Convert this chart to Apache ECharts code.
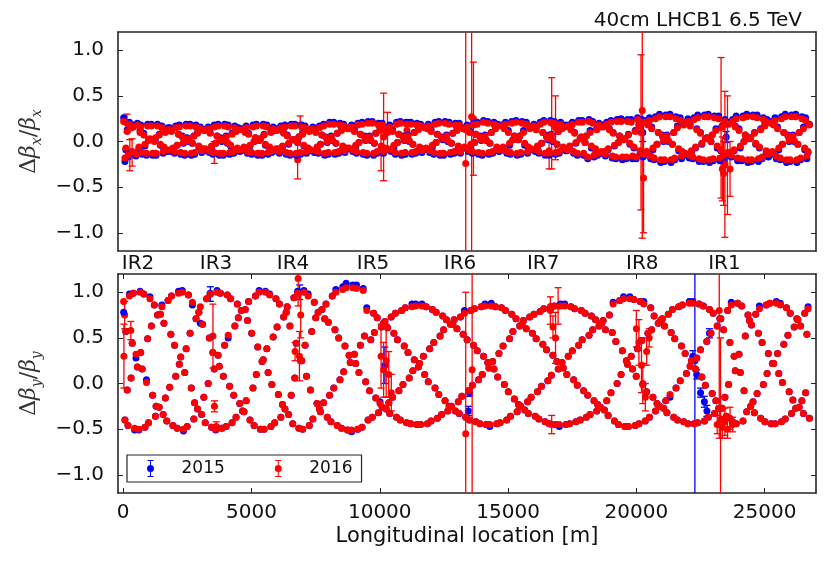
<!DOCTYPE html>
<html><head><meta charset="utf-8">
<script src="https://cdn.jsdelivr.net/npm/echarts@6/dist/echarts.min.js"></script>
<style>html,body{margin:0;padding:0;background:#fff}#c{width:831px;height:574px}</style>
</head><body><div id="c"></div>
<script>
// BPM longitudinal positions [m], first family
const bpmS = [
20,105,190,310,395,500,615,685,805,910,
990,1100,1215,1285,1405,1510,1590,1700,1815,1885,
2005,2110,2190,2305,2400,2495,2610,2700,2785,2900,
3010,3095,3200,3315,3390,3495,3610,3700,3790,3905,
4010,4095,4190,4310,4400,4490,4605,4710,4795,4890,
5010,5105,5190,5300,5415,5490,5600,5710,5795,5905,
6000,6090,6210,6305,6395,6500,6610,6690,6800,6915,
6995,7090,7210,7300,7395,7505,7600,7690,7810,7905,
7995,8100,8210,8290,8400,8510,8595,8690,8805,8900,
9010,9095,9190,9310,9405,9495,9600,9710,9790,9900,
10010,10095,10200,10305,10390,10500,10610,10690,10800,10905,
10995,11100,11210,11290,11400,11505,11595,11700,11810,11890,
12000,12105,12195,12300,12410,12490,12600,12705,12795,12900,
13010,13095,13200,13300,13405,13500,13610,13690,13800,13905,
13995,14100,14210,14290,14400,14510,14595,14690,14805,14900,
15010,15095,15190,15310,15405,15495,15600,15710,15790,15900,
16010,16095,16200,16305,16390,16500,16610,16690,16800,16905,
16995,17100,17210,17290,17400,17505,17595,17700,17810,17890,
18000,18105,18195,18300,18410,18490,18600,18705,18795,18900,
19010,19095,19200,19300,19405,19500,19610,19690,19800,19905,
19995,20100,20210,20290,20400,20510,20595,20690,20805,20900,
21010,21095,21190,21310,21405,21495,21600,21710,21790,21900,
22010,22095,22200,22305,22390,22500,22610,22690,22800,22905,
22995,23100,23210,23290,23400,23505,23595,23700,23810,23890,
24000,24105,24195,24300,24410,24490,24600,24705,24795,24900,
25010,25095,25200,25300,25405,25500,25610,25690,25800,25905,
25995,26100,26210,26290,26400,26510,26595,26690];
// BPM longitudinal positions [m], second family
const bpmS2 = [
70,160,245,355,450,555,660,740,850,955,
1045,1150,1260,1340,1450,1560,1645,1750,1860,1940,
2050,2160,2245,2350,2455,2545,2655,2755,2840,2950,
3060,3145,3255,3360,3445,3550,3660,3750,3845,3955,
4060,4150,4245,4355,4450,4545,4655,4760,4845,4945,
5060,5155,5245,5350,5460,5545,5650,5760,5845,5955,
6050,6145,6255,6355,6450,6550,6655,6745,6850,6960,
7045,7145,7255,7350,7450,7555,7650,7745,7855,7955,
8045,8150,8255,8345,8450,8560,8645,8745,8850,8950,
9060,9145,9245,9355,9450,9545,9650,9760,9845,9950,
10060,10145,10250,10355,10445,10550,10655,10745,10850,10955,
11045,11150,11255,11345,11450,11555,11645,11750,11855,11945,
12050,12155,12245,12350,12455,12545,12650,12755,12845,12950,
13060,13145,13250,13350,13455,13550,13655,13745,13850,13955,
14045,14150,14255,14345,14450,14560,14645,14745,14855,14950,
15060,15145,15245,15355,15455,15545,15650,15760,15845,15950,
16060,16145,16250,16355,16445,16550,16655,16745,16850,16955,
17045,17150,17255,17345,17450,17555,17645,17750,17855,17945,
18050,18155,18245,18350,18455,18545,18650,18755,18845,18950,
19060,19145,19250,19350,19455,19550,19655,19745,19850,19955,
20045,20150,20255,20345,20450,20560,20645,20745,20855,20950,
21060,21145,21245,21355,21455,21545,21650,21760,21845,21950,
22060,22145,22250,22355,22445,22550,22655,22745,22850,22955,
23045,23150,23255,23345,23450,23555,23645,23750,23855,23945,
24050,24155,24245,24350,24455,24545,24650,24755,24845,24950,
25060,25145,25250,25350,25455,25550,25655,25745,25850,25955,
26045,26150,26255,26345,26450,26560,26645,26745];

// horizontal beta-beating, 2015 (blue) and 2016 (red)
const bx2015 = [
0.26,-0.09,-0.17,0.17,0.18,-0.16,-0.08,0.18,0.09,-0.15,
0.02,0.19,0.01,-0.15,0.08,0.17,-0.07,-0.11,0.15,0.12,
-0.13,-0.04,0.18,0.06,-0.15,0.04,0.19,-0.02,-0.14,0.10,
0.16,-0.09,-0.10,0.16,0.10,-0.14,-0.02,0.19,0.04,-0.15,
0.06,0.18,-0.05,-0.13,0.13,0.15,-0.10,-0.07,0.17,0.09,
-0.14,0.00,0.19,0.01,-0.15,0.08,0.18,-0.07,-0.12,0.14,
0.14,-0.13,-0.06,0.18,0.07,-0.15,0.02,0.19,-0.01,-0.14,
0.09,0.17,-0.08,-0.10,0.16,0.12,-0.13,-0.03,0.19,0.05,
-0.14,0.06,0.21,-0.02,-0.13,0.14,0.19,-0.08,-0.08,0.18,
0.13,-0.13,-0.01,0.21,0.06,-0.15,0.06,0.22,-0.02,-0.13,
0.14,0.20,-0.08,-0.09,0.18,0.13,-0.14,-0.01,0.22,0.06,
-0.14,0.07,0.21,-0.03,-0.13,0.15,0.19,-0.09,-0.08,0.19,
0.13,-0.14,-0.01,0.22,0.05,-0.15,0.07,0.21,-0.02,-0.13,
0.14,0.20,-0.08,-0.07,0.18,0.12,-0.13,-0.01,0.21,0.06,
-0.15,0.07,0.22,-0.02,-0.13,0.16,0.19,-0.10,-0.07,0.21,
0.12,-0.14,0.02,0.23,0.02,-0.14,0.12,0.21,-0.07,-0.09,
0.19,0.15,-0.13,-0.02,0.23,0.06,-0.15,0.08,0.22,-0.03,
-0.13,0.16,0.18,-0.10,-0.06,0.21,0.10,-0.15,0.03,0.23,
-0.01,-0.19,0.12,0.22,-0.09,-0.15,0.18,0.18,-0.16,-0.09,
0.23,0.10,-0.19,-0.01,0.25,0.02,-0.19,0.08,0.24,-0.07,
-0.19,0.19,0.24,-0.16,-0.12,0.26,0.16,-0.20,-0.03,0.30,
0.07,-0.22,0.07,0.30,-0.03,-0.20,0.17,0.26,-0.12,-0.15,
0.25,0.19,-0.19,-0.07,0.29,0.10,-0.22,0.03,0.30,0.00,
-0.21,0.14,0.28,-0.10,-0.17,0.21,0.21,-0.17,-0.10,0.28,
0.14,-0.21,0.00,0.30,0.03,-0.22,0.10,0.29,-0.07,-0.19,
0.19,0.24,-0.15,-0.12,0.26,0.16,-0.20,-0.03,0.30,0.07,
-0.22,0.07,0.30,-0.03,-0.20,0.16,0.26,-0.12];
const bx2015b = [
-0.22,0.13,0.21,-0.13,-0.14,0.20,0.12,-0.14,-0.05,0.19,
0.02,-0.15,0.03,0.19,-0.04,-0.13,0.11,0.15,-0.11,-0.08,
0.17,0.08,-0.14,-0.02,0.19,0.00,-0.15,0.06,0.18,-0.06,
-0.12,0.13,0.14,-0.12,-0.06,0.18,0.06,-0.15,0.00,0.19,
-0.02,-0.14,0.09,0.17,-0.09,-0.11,0.14,0.11,-0.13,-0.05,
0.18,0.04,-0.15,0.03,0.19,-0.04,-0.14,0.11,0.16,-0.10,
-0.10,0.17,0.10,-0.14,-0.03,0.19,0.02,-0.15,0.05,0.18,
-0.05,-0.13,0.12,0.14,-0.12,-0.08,0.17,0.07,-0.15,-0.01,
0.21,0.01,-0.14,0.09,0.20,-0.07,-0.12,0.15,0.15,-0.11,
-0.06,0.20,0.08,-0.14,0.01,0.22,0.01,-0.15,0.09,0.20,
-0.07,-0.13,0.15,0.16,-0.11,-0.06,0.21,0.08,-0.15,0.01,
0.21,0.00,-0.14,0.10,0.20,-0.08,-0.12,0.16,0.15,-0.12,
-0.06,0.21,0.08,-0.15,0.02,0.22,0.00,-0.14,0.09,0.20,
-0.07,-0.13,0.15,0.14,-0.11,-0.05,0.20,0.08,-0.14,0.01,
0.23,0.01,-0.14,0.10,0.21,-0.08,-0.11,0.18,0.15,-0.13,
-0.04,0.22,0.06,-0.15,0.06,0.22,-0.04,-0.13,0.15,0.17,
-0.11,-0.07,0.21,0.10,-0.15,0.02,0.23,0.00,-0.14,0.11,
0.21,-0.08,-0.10,0.18,0.14,-0.13,-0.02,0.23,0.05,-0.15,
0.06,0.24,-0.07,-0.17,0.14,0.20,-0.13,-0.13,0.21,0.14,
-0.18,-0.05,0.24,0.06,-0.20,0.03,0.24,-0.03,-0.19,0.12,
0.26,-0.12,-0.17,0.23,0.19,-0.19,-0.09,0.27,0.10,-0.23,
0.00,0.29,0.00,-0.23,0.10,0.27,-0.10,-0.19,0.19,0.22,
-0.18,-0.12,0.26,0.14,-0.22,-0.03,0.29,0.04,-0.23,0.07,
0.28,-0.07,-0.21,0.17,0.24,-0.14,-0.14,0.24,0.17,-0.21,
-0.07,0.28,0.07,-0.23,0.04,0.29,-0.03,-0.22,0.14,0.26,
-0.12,-0.17,0.22,0.19,-0.19,-0.09,0.27,0.10,-0.23,0.00,
0.29,0.00,-0.23,0.10,0.27,-0.09,-0.19,0.19];
const bx2016 = [
0.22,-0.07,-0.15,0.15,0.16,-0.14,-0.06,0.16,0.07,-0.13,
0.01,0.17,0.00,-0.13,0.07,0.15,-0.06,-0.09,0.13,0.11,
-0.11,-0.04,0.16,0.05,-0.13,0.03,0.17,-0.02,-0.12,0.09,
0.14,-0.08,-0.08,0.14,0.09,-0.12,-0.02,0.17,0.03,-0.13,
0.05,0.16,-0.04,-0.11,0.11,0.13,-0.09,-0.06,0.15,0.08,
-0.12,0.00,0.17,0.01,-0.13,0.07,0.16,-0.06,-0.10,0.12,
0.12,-0.11,-0.05,0.16,0.06,-0.13,0.02,0.17,-0.01,-0.12,
0.08,0.15,-0.07,-0.09,0.14,0.10,-0.11,-0.03,0.17,0.04,
-0.12,0.05,0.19,-0.02,-0.11,0.12,0.17,-0.07,-0.07,0.16,
0.11,-0.11,-0.01,0.19,0.05,-0.13,0.05,0.20,-0.02,-0.11,
0.12,0.18,-0.07,-0.08,0.16,0.11,-0.12,-0.01,0.20,0.05,
-0.12,0.06,0.19,-0.03,-0.11,0.13,0.17,-0.08,-0.07,0.17,
0.11,-0.12,-0.01,0.20,0.04,-0.13,0.06,0.19,-0.02,-0.11,
0.12,0.18,-0.07,-0.06,0.16,0.10,-0.11,-0.01,0.19,0.05,
-0.13,0.06,0.20,-0.02,-0.11,0.14,0.17,-0.09,-0.06,0.19,
0.10,-0.12,0.02,0.21,0.02,-0.12,0.10,0.19,-0.06,-0.08,
0.17,0.13,-0.11,-0.02,0.21,0.05,-0.13,0.07,0.20,-0.03,
-0.11,0.14,0.16,-0.09,-0.05,0.19,0.09,-0.13,0.03,0.21,
-0.01,-0.17,0.10,0.20,-0.08,-0.13,0.16,0.16,-0.14,-0.08,
0.21,0.09,-0.17,-0.01,0.22,0.02,-0.17,0.07,0.21,-0.06,
-0.17,0.17,0.21,-0.14,-0.11,0.23,0.14,-0.18,-0.03,0.27,
0.06,-0.20,0.06,0.27,-0.03,-0.18,0.15,0.23,-0.11,-0.13,
0.22,0.17,-0.17,-0.06,0.26,0.09,-0.20,0.03,0.27,0.00,
-0.19,0.12,0.25,-0.09,-0.15,0.19,0.19,-0.15,-0.09,0.25,
0.12,-0.19,0.00,0.27,0.03,-0.20,0.09,0.26,-0.06,-0.17,
0.17,0.21,-0.13,-0.11,0.23,0.14,-0.18,-0.03,0.27,0.06,
-0.20,0.06,0.27,-0.03,-0.18,0.14,0.23,-0.11];
const bx2016b = [
-0.18,0.11,0.19,-0.11,-0.12,0.18,0.10,-0.12,-0.03,0.17,
0.03,-0.13,0.04,0.17,-0.03,-0.11,0.10,0.13,-0.09,-0.07,
0.15,0.08,-0.12,-0.01,0.17,0.01,-0.13,0.06,0.16,-0.05,
-0.10,0.12,0.12,-0.10,-0.05,0.16,0.06,-0.13,0.01,0.17,
-0.01,-0.12,0.08,0.15,-0.07,-0.09,0.13,0.10,-0.11,-0.04,
0.16,0.04,-0.13,0.03,0.17,-0.03,-0.12,0.10,0.14,-0.08,
-0.08,0.15,0.09,-0.12,-0.02,0.17,0.02,-0.13,0.05,0.16,
-0.04,-0.11,0.11,0.13,-0.10,-0.06,0.15,0.07,-0.13,0.00,
0.19,0.02,-0.12,0.09,0.18,-0.05,-0.10,0.14,0.14,-0.09,
-0.04,0.18,0.08,-0.12,0.02,0.20,0.02,-0.13,0.09,0.18,
-0.05,-0.11,0.14,0.15,-0.09,-0.04,0.19,0.08,-0.13,0.02,
0.19,0.01,-0.12,0.10,0.18,-0.06,-0.10,0.15,0.14,-0.10,
-0.04,0.19,0.08,-0.13,0.03,0.20,0.01,-0.12,0.09,0.18,
-0.05,-0.11,0.14,0.13,-0.09,-0.03,0.18,0.08,-0.12,0.02,
0.21,0.02,-0.12,0.10,0.19,-0.06,-0.09,0.17,0.14,-0.11,
-0.02,0.20,0.06,-0.13,0.06,0.20,-0.02,-0.11,0.14,0.16,
-0.09,-0.05,0.19,0.10,-0.13,0.03,0.21,0.01,-0.12,0.11,
0.19,-0.06,-0.08,0.17,0.13,-0.11,-0.01,0.21,0.05,-0.13,
0.06,0.22,-0.05,-0.15,0.13,0.18,-0.11,-0.11,0.19,0.13,
-0.16,-0.04,0.22,0.06,-0.17,0.03,0.22,-0.02,-0.16,0.11,
0.24,-0.10,-0.14,0.21,0.18,-0.16,-0.07,0.25,0.10,-0.20,
0.01,0.27,0.01,-0.20,0.10,0.25,-0.08,-0.16,0.18,0.20,
-0.15,-0.10,0.24,0.13,-0.19,-0.02,0.27,0.04,-0.20,0.07,
0.26,-0.05,-0.18,0.16,0.22,-0.12,-0.12,0.22,0.16,-0.18,
-0.05,0.26,0.07,-0.20,0.04,0.27,-0.02,-0.19,0.13,0.24,
-0.10,-0.14,0.20,0.18,-0.16,-0.07,0.25,0.10,-0.20,0.01,
0.27,0.01,-0.20,0.10,0.25,-0.07,-0.16,0.18];

// vertical beta-beating, 2015 (blue) and 2016 (red)
const by2015 = [
0.78,0.57,-0.46,0.06,0.99,0.28,-0.51,0.34,0.98,0.04,
-0.43,0.63,0.86,-0.25,-0.26,0.86,0.66,-0.41,-0.04,0.96,
0.42,-0.49,0.21,1.02,0.12,-0.47,0.55,0.86,-0.21,-0.28,
0.66,0.65,-0.43,0.00,0.99,0.34,-0.51,0.31,0.99,0.08,
-0.47,0.50,0.93,-0.13,-0.37,0.72,0.80,-0.31,-0.19,0.90,
0.55,-0.46,0.10,1.02,0.24,-0.50,0.38,0.98,-0.01,-0.43,
0.62,0.87,-0.23,-0.28,0.84,0.63,-0.44,0.06,1.01,0.25,
-0.50,0.42,0.98,-0.07,-0.39,0.72,0.78,-0.31,-0.21,0.87,
0.67,-0.42,-0.05,1.03,0.50,-0.49,0.13,1.10,0.31,-0.53,
0.32,1.08,0.12,-0.48,0.52,0.83,-0.08,-0.37,0.56,0.72,
-0.20,-0.26,0.68,0.61,-0.33,-0.15,0.77,0.48,-0.40,-0.01,
0.83,0.34,-0.44,0.14,0.87,0.18,-0.45,0.30,0.84,0.02,
-0.41,0.45,0.78,-0.12,-0.34,0.59,0.70,-0.25,-0.25,0.70,
0.60,-0.33,-0.14,0.80,0.48,-0.40,-0.02,0.82,0.36,-0.44,
0.10,0.87,0.23,-0.47,0.24,0.84,0.07,-0.43,0.41,0.80,
-0.09,-0.36,0.57,0.71,-0.23,-0.25,0.69,0.60,-0.33,-0.15,
0.76,0.49,-0.39,-0.03,0.82,0.37,-0.44,0.09,0.85,0.24,
-0.47,0.23,0.87,0.10,-0.44,0.36,0.82,-0.02,-0.40,0.48,
0.77,-0.13,-0.34,0.59,0.70,-0.23,-0.26,0.69,0.59,-0.35,
-0.10,0.89,0.46,-0.45,0.10,0.95,0.25,-0.47,0.30,0.92,
0.08,-0.44,0.47,0.90,-0.09,-0.37,0.59,0.74,-0.22,-0.25,
0.71,0.63,-0.32,-0.15,0.81,0.49,-0.40,0.03,0.86,0.33,
-0.44,0.19,0.90,0.16,-0.43,0.37,0.85,-0.02,-0.37,0.55,
0.77,-0.19,-0.27,0.71,0.59,-0.36,-0.01,0.89,0.30,-0.44,
0.32,0.85,-0.08,-0.31,0.69,0.64,-0.32,-0.11,0.85,0.45,
-0.42,0.11,0.88,0.22,-0.44,0.33,0.88,0.01,-0.39,0.53,
0.77,-0.18,-0.27,0.70,0.63,-0.33,-0.10,0.84];
const by2015b = [
-0.40,-0.07,0.98,0.44,-0.51,0.18,1.01,0.16,-0.48,0.49,
0.95,-0.13,-0.36,0.75,0.76,-0.34,-0.16,0.91,0.54,-0.46,
0.08,1.01,0.29,-0.52,0.38,0.97,-0.05,-0.39,0.71,0.78,
-0.34,-0.15,0.93,0.50,-0.48,0.16,1.02,0.19,-0.49,0.42,
0.97,-0.03,-0.43,0.63,0.87,-0.22,-0.30,0.81,0.69,-0.40,
-0.05,0.96,0.40,-0.50,0.26,1.01,0.12,-0.47,0.51,0.93,
-0.12,-0.37,0.73,0.78,-0.34,-0.13,0.94,0.44,-0.49,0.25,
1.02,0.08,-0.46,0.57,0.89,-0.22,-0.28,0.81,0.71,-0.37,
-0.13,0.96,0.59,-0.46,0.04,1.06,0.41,-0.51,0.23,1.08,
0.22,-0.50,0.42,1.04,0.02,-0.40,0.48,0.77,-0.16,-0.32,
0.62,0.66,-0.28,-0.21,0.73,0.55,-0.37,-0.08,0.80,0.41,
-0.43,0.06,0.87,0.26,-0.45,0.22,0.87,0.10,-0.44,0.38,
0.81,-0.05,-0.38,0.52,0.74,-0.19,-0.30,0.65,0.65,-0.30,
-0.20,0.73,0.54,-0.37,-0.08,0.80,0.42,-0.42,0.04,0.84,
0.30,-0.45,0.17,0.88,0.16,-0.44,0.33,0.83,-0.01,-0.40,
0.49,0.76,-0.17,-0.31,0.63,0.65,-0.29,-0.20,0.73,0.55,
-0.36,-0.09,0.79,0.43,-0.42,0.03,0.84,0.31,-0.45,0.16,
0.87,0.17,-0.45,0.30,0.84,0.04,-0.42,0.42,0.80,-0.08,
-0.37,0.53,0.74,-0.19,-0.30,0.63,0.66,-0.29,-0.19,0.75,
0.56,-0.41,0.00,0.91,0.36,-0.47,0.21,0.95,0.16,-0.46,
0.38,0.90,-0.01,-0.41,0.55,0.83,-0.15,-0.30,0.66,0.69,
-0.27,-0.19,0.76,0.56,-0.37,-0.05,0.84,0.41,-0.42,0.11,
0.90,0.25,-0.44,0.28,0.87,0.07,-0.41,0.46,0.81,-0.11,
-0.33,0.63,0.71,-0.27,-0.15,0.80,0.45,-0.42,0.14,0.88,
0.12,-0.41,0.52,0.75,-0.25,-0.20,0.76,0.55,-0.38,-0.01,
0.86,0.33,-0.44,0.22,0.90,0.11,-0.42,0.43,0.83,-0.09,
-0.33,0.62,0.71,-0.26,-0.19,0.77,0.54,-0.38];
const by2016 = [
0.90,0.57,-0.46,0.06,0.99,0.32,-0.50,0.34,0.98,0.01,
-0.43,0.63,0.86,-0.25,-0.26,0.84,0.66,-0.41,-0.04,0.96,
0.42,-0.49,0.21,1.00,0.12,-0.47,0.55,0.89,-0.21,-0.28,
0.84,0.65,-0.43,0.00,0.98,0.34,-0.50,0.31,0.99,0.08,
-0.47,0.53,0.93,-0.13,-0.37,0.72,0.80,-0.31,-0.19,0.90,
0.55,-0.46,0.10,1.00,0.24,-0.50,0.38,0.97,-0.01,-0.43,
0.62,0.87,-0.23,-0.28,0.84,0.63,-0.44,0.06,0.99,0.25,
-0.50,0.42,0.96,-0.07,-0.39,0.72,0.78,-0.31,-0.21,0.87,
0.67,-0.42,-0.05,1.00,0.50,-0.49,0.13,1.05,0.31,-0.51,
0.32,1.04,0.12,-0.48,0.52,0.80,-0.08,-0.37,0.56,0.72,
-0.22,-0.26,0.68,0.61,-0.33,-0.15,0.77,0.48,-0.40,-0.01,
0.83,0.34,-0.44,0.14,0.85,0.18,-0.45,0.30,0.84,0.02,
-0.41,0.45,0.78,-0.12,-0.34,0.59,0.70,-0.25,-0.25,0.70,
0.60,-0.33,-0.14,0.77,0.48,-0.40,-0.02,0.82,0.36,-0.44,
0.10,0.85,0.23,-0.45,0.24,0.84,0.07,-0.43,0.41,0.80,
-0.09,-0.36,0.57,0.71,-0.23,-0.25,0.69,0.60,-0.33,-0.15,
0.76,0.49,-0.39,-0.03,0.82,0.37,-0.44,0.09,0.85,0.24,
-0.45,0.23,0.85,0.10,-0.44,0.36,0.82,-0.02,-0.40,0.48,
0.77,-0.13,-0.34,0.59,0.70,-0.23,-0.26,0.69,0.59,-0.35,
-0.10,0.87,0.46,-0.45,0.10,0.93,0.25,-0.47,0.30,0.92,
0.08,-0.44,0.47,0.87,-0.09,-0.37,0.59,0.74,-0.22,-0.25,
0.71,0.63,-0.32,-0.12,0.81,0.49,-0.40,0.03,0.86,0.33,
-0.44,0.19,0.88,0.16,-0.43,0.37,0.85,-0.02,-0.37,0.55,
0.77,-0.19,-0.27,0.71,0.59,-0.36,-0.01,0.86,0.30,-0.44,
0.32,0.85,-0.08,-0.31,0.69,0.64,-0.32,-0.11,0.82,0.45,
-0.42,0.11,0.88,0.22,-0.44,0.33,0.86,0.01,-0.39,0.53,
0.77,-0.18,-0.27,0.70,0.63,-0.33,-0.10,0.82];
const by2016b = [
-0.40,-0.07,0.96,0.44,-0.49,0.18,1.00,0.16,-0.48,0.49,
0.93,-0.13,-0.36,0.75,0.76,-0.34,-0.16,0.91,0.54,-0.46,
0.08,0.99,0.29,-0.50,0.38,0.97,-0.05,-0.39,0.71,0.78,
-0.34,-0.15,0.93,0.50,-0.48,0.16,1.00,0.19,-0.49,0.42,
0.97,-0.03,-0.43,0.63,0.87,-0.22,-0.30,0.81,0.69,-0.40,
-0.05,0.96,0.40,-0.50,0.26,1.00,0.12,-0.47,0.51,0.93,
-0.12,-0.37,0.73,0.78,-0.34,-0.13,0.94,0.44,-0.49,0.25,
1.00,0.08,-0.46,0.57,0.89,-0.22,-0.28,0.81,0.71,-0.37,
-0.13,0.96,0.59,-0.46,0.04,1.03,0.41,-0.51,0.23,1.05,
0.22,-0.50,0.42,1.02,0.02,-0.40,0.48,0.77,-0.16,-0.32,
0.62,0.66,-0.28,-0.21,0.73,0.55,-0.37,-0.08,0.80,0.41,
-0.43,0.06,0.84,0.26,-0.45,0.22,0.85,0.10,-0.44,0.38,
0.81,-0.05,-0.38,0.52,0.74,-0.19,-0.30,0.65,0.65,-0.30,
-0.20,0.73,0.54,-0.37,-0.08,0.80,0.42,-0.42,0.04,0.84,
0.30,-0.45,0.17,0.85,0.16,-0.44,0.33,0.83,-0.01,-0.40,
0.49,0.76,-0.17,-0.31,0.63,0.65,-0.29,-0.20,0.73,0.55,
-0.36,-0.09,0.79,0.43,-0.42,0.03,0.84,0.31,-0.45,0.16,
0.85,0.17,-0.45,0.30,0.84,0.04,-0.42,0.42,0.80,-0.08,
-0.37,0.53,0.74,-0.19,-0.30,0.63,0.66,-0.29,-0.19,0.75,
0.56,-0.41,0.00,0.91,0.36,-0.47,0.21,0.93,0.16,-0.46,
0.38,0.90,-0.01,-0.41,0.55,0.83,-0.15,-0.30,0.66,0.69,
-0.27,-0.19,0.76,0.56,-0.37,-0.05,0.84,0.41,-0.42,0.11,
0.88,0.25,-0.44,0.28,0.87,0.07,-0.41,0.46,0.81,-0.11,
-0.33,0.63,0.71,-0.27,-0.15,0.80,0.45,-0.42,0.14,0.88,
0.12,-0.41,0.52,0.75,-0.25,-0.20,0.76,0.55,-0.38,-0.01,
0.86,0.33,-0.44,0.22,0.88,0.11,-0.42,0.43,0.83,-0.09,
-0.33,0.62,0.71,-0.26,-0.19,0.77,0.54,-0.38];

// points with large error bars: [s, value, error]
const bx2015Err = [[20250,0.10,0.10],[23400,-0.20,0.08],[23500,0.05,0.06]];
const bx2016Err = [
[150,0.20,0.10],[260,-0.15,0.17],[350,-0.12,0.15],[3550,-0.12,0.12],
[6800,-0.20,0.21],[6900,0.18,0.10],[10050,-0.10,0.22],[10150,0.05,0.48],
[10300,0.10,0.22],[11060,0.12,0.12],[13350,-0.24,3.0],[13580,0.27,3.0],
[13650,0.25,0.62],[16600,-0.10,0.20],[16700,0.20,0.50],[16850,0.15,0.35],
[20180,0.10,0.85],[20230,0.34,1.40],[20280,-0.40,0.60],[23300,0.15,0.77],
[23350,-0.30,0.35],[23400,-0.35,0.35],[23450,-0.25,0.80],[23550,-0.15,0.65],
[23650,-0.30,0.30]];
const by2015Err = [
[3400,0.98,0.08],[6880,1.00,0.08],[10200,0.20,0.20],[13450,-0.30,0.05],
[13500,-0.10,0.04],[22200,0.30,0.06],[22280,0.25,2.0],[22350,0.10,0.05],
[22500,-0.10,0.05],[22650,-0.20,0.06],[22750,-0.30,0.06],[22850,0.55,0.05]];
const by2016Err = [
[30,0.30,0.35],[60,0.75,0.15],[300,0.58,0.10],[3500,0.52,0.35],
[3560,-0.25,0.06],[3630,-0.47,0.05],[6700,0.35,0.10],[6820,1.15,0.30],
[6870,0.30,0.27],[6920,0.75,0.25],[10050,0.30,0.35],[10150,0.15,0.30],
[10250,0.25,0.40],[10350,0.10,0.25],[10450,-0.10,0.20],[13350,-0.55,1.55],
[13600,0.15,1.50],[16650,0.80,0.15],[16700,-0.45,0.10],[16750,0.62,0.12],
[16850,0.50,0.28],[16950,0.85,0.20],[20000,0.60,0.20],[20100,0.45,0.25],
[20200,0.20,0.30],[20250,0.00,0.22],[20350,-0.15,0.15],[20400,0.35,0.15],
[20500,0.50,0.10],[23150,-0.45,0.10],[23230,0.80,1.40],[23280,-0.40,0.90],
[23350,-0.48,0.12],[23450,-0.42,0.15],[23550,-0.50,0.10],[23650,-0.38,0.12],
[23750,-0.45,0.08]];

const irNames = ['IR2','IR3','IR4','IR5','IR6','IR7','IR8','IR1'];
const irPos = [580,3620,6620,9740,13130,16370,20230,23430];
const xTicks = [0,5000,10000,15000,20000,25000];
const yTicks = [-1,-0.5,0,0.5,1];
const yearNames = ['2015','2016'];

const BLUE = '#0000ff', RED = '#ff0000', FRAME = '#262626', TXT = '#111';
const FONT = 'DejaVu Sans';
const DOT = 7;

function pairs(pos, vals){ return pos.map((s,i)=>[s, vals[i]]); }
function both(a, b){ return pairs(bpmS, a).concat(pairs(bpmS2, b)); }

function errItem(params, api){
  const cs = params.coordSys;
  const x = api.value(0), y = api.value(1), e = api.value(2);
  const c = api.coord([x, y]), t = api.coord([x, y + e]), b = api.coord([x, y - e]);
  const y0 = cs.y, y1 = cs.y + cs.height;
  const color = api.visual('color');
  const st = {stroke: color, lineWidth: 1.3};
  const top = Math.max(t[1], y0), bot = Math.min(b[1], y1);
  const ch = [{type:'line', shape:{x1:c[0], y1:top, x2:c[0], y2:bot}, style:st}];
  if (t[1] >= y0) ch.push({type:'line', shape:{x1:c[0]-3.5, y1:t[1], x2:c[0]+3.5, y2:t[1]}, style:st});
  if (b[1] <= y1) ch.push({type:'line', shape:{x1:c[0]-3.5, y1:b[1], x2:c[0]+3.5, y2:b[1]}, style:st});
  if (c[1] >= y0 && c[1] <= y1) ch.push({type:'circle', shape:{cx:c[0], cy:c[1], r:DOT/2}, style:{fill:color}});
  return {type:'group', children: ch};
}

const yFmt = v => (v < 0 ? '\u2212' : '') + Math.abs(v).toFixed(1);
const frameLine = {show:true, onZero:false, lineStyle:{color:FRAME, width:1.6}};
const richName = {
  d:{fontSize:22, fontFamily:'DejaVu Serif', color:'#333', lineHeight:30},
  b:{fontSize:22, fontFamily:'DejaVu Serif', fontStyle:'italic', color:'#333', lineHeight:30},
  s:{fontSize:14, fontFamily:'DejaVu Serif', fontStyle:'italic', color:'#333', lineHeight:16, verticalAlign:'bottom'}
};

function yAxes(gi, sub){
  return [{
    gridIndex: gi, type:'value', min:-1.2, max:1.2, position:'left',
    axisLine: frameLine,
    axisTick: {show:true, inside:true, length:5, customValues: yTicks, lineStyle:{color:FRAME}},
    axisLabel: {customValues: yTicks, formatter: yFmt, fontSize:20, color:TXT, fontFamily:FONT, margin:14},
    splitLine: {show:false},
    name: '{d|\u0394}{b|\u03b2}{s|' + sub + '}{d|/}{b|\u03b2}{s|' + sub + '}',
    nameLocation:'middle', nameRotate:90, nameGap:74,
    nameTextStyle: {rich: richName}
  },{
    gridIndex: gi, type:'value', min:-1.2, max:1.2, position:'right',
    axisLine: frameLine,
    axisTick: {show:true, inside:true, length:5, customValues: yTicks, lineStyle:{color:FRAME}},
    axisLabel: {show:false}, splitLine:{show:false}
  }];
}

const ICON = 'path://M1,0H7V1H1Z M3.5,0H4.5V17H3.5Z M1,16H7V17H1Z M0.5,8.5A3.5,3.5 0 1,1 7.5,8.5A3.5,3.5 0 1,1 0.5,8.5Z';

function scatter(name, color, xi, data){
  return {name, type:'scatter', xAxisIndex:xi, yAxisIndex:xi, symbolSize:DOT,
    itemStyle:{color, opacity:1}, data};
}
function errs(name, color, xi, data){
  return {name, type:'custom', xAxisIndex:xi, yAxisIndex:xi, renderItem:errItem,
    itemStyle:{color, opacity:1}, encode:{x:0, y:1}, data};
}

const option = {
  animation: false,
  backgroundColor: '#fff',
  title: {text:'40cm LHCB1 6.5 TeV', right:24, top:6,
    textStyle:{fontSize:20, fontWeight:'normal', color:TXT, fontFamily:FONT}},
  legend: {
    left:127, top:455, orient:'horizontal',
    borderColor:FRAME, borderWidth:1.2, borderRadius:0,
    padding:[5,9,5,20], itemGap:50, itemWidth:8, itemHeight:17,
    textStyle:{fontSize:17, color:TXT, fontFamily:FONT, padding:[0,0,0,22]},
    data: yearNames.map(n => ({name:n, icon:ICON}))
  },
  grid: [
    {left:118, right:15, top:32, height:219},
    {left:118, right:15, top:274, height:219}
  ],
  xAxis: [
    {gridIndex:0, type:'value', min:-200, max:27000, position:'bottom',
     axisLine: frameLine, axisTick:{show:false},
     axisLabel:{customValues: irPos, formatter: v => irNames[irPos.indexOf(v)],
       fontSize:20, color:TXT, fontFamily:FONT, margin:3},
     splitLine:{show:false}},
    {gridIndex:0, type:'value', min:-200, max:27000, position:'top',
     axisLine: frameLine, axisTick:{show:false}, axisLabel:{show:false}, splitLine:{show:false}},
    {gridIndex:1, type:'value', min:-200, max:27000, position:'bottom',
     axisLine: frameLine,
     axisTick:{show:true, inside:true, length:5, customValues:xTicks, lineStyle:{color:FRAME}},
     axisLabel:{customValues:xTicks, formatter: v => String(v), fontSize:20, color:TXT, fontFamily:FONT, margin:10},
     splitLine:{show:false},
     name:'Longitudinal location [m]', nameLocation:'middle', nameGap:33,
     nameTextStyle:{fontSize:21, color:TXT, fontFamily:FONT}},
    {gridIndex:1, type:'value', min:-200, max:27000, position:'top',
     axisLine: frameLine,
     axisTick:{show:true, inside:true, length:5, customValues:xTicks, lineStyle:{color:FRAME}},
     axisLabel:{show:false}, splitLine:{show:false}}
  ],
  yAxis: [...yAxes(0,'x'), ...yAxes(1,'y')],
  series: [
    scatter(yearNames[0], BLUE, 0, both(bx2015, bx2015b)),
    scatter(yearNames[1], RED, 0, both(bx2016, bx2016b)),
    errs(yearNames[0], BLUE, 0, bx2015Err),
    errs(yearNames[1], RED, 0, bx2016Err),
    scatter(yearNames[0], BLUE, 2, both(by2015, by2015b)),
    scatter(yearNames[1], RED, 2, both(by2016, by2016b)),
    errs(yearNames[0], BLUE, 2, by2015Err),
    errs(yearNames[1], RED, 2, by2016Err)
  ]
};

const chart = echarts.init(document.getElementById('c'), null, {renderer:'canvas'});
chart.setOption(option);
</script>
</body></html>
